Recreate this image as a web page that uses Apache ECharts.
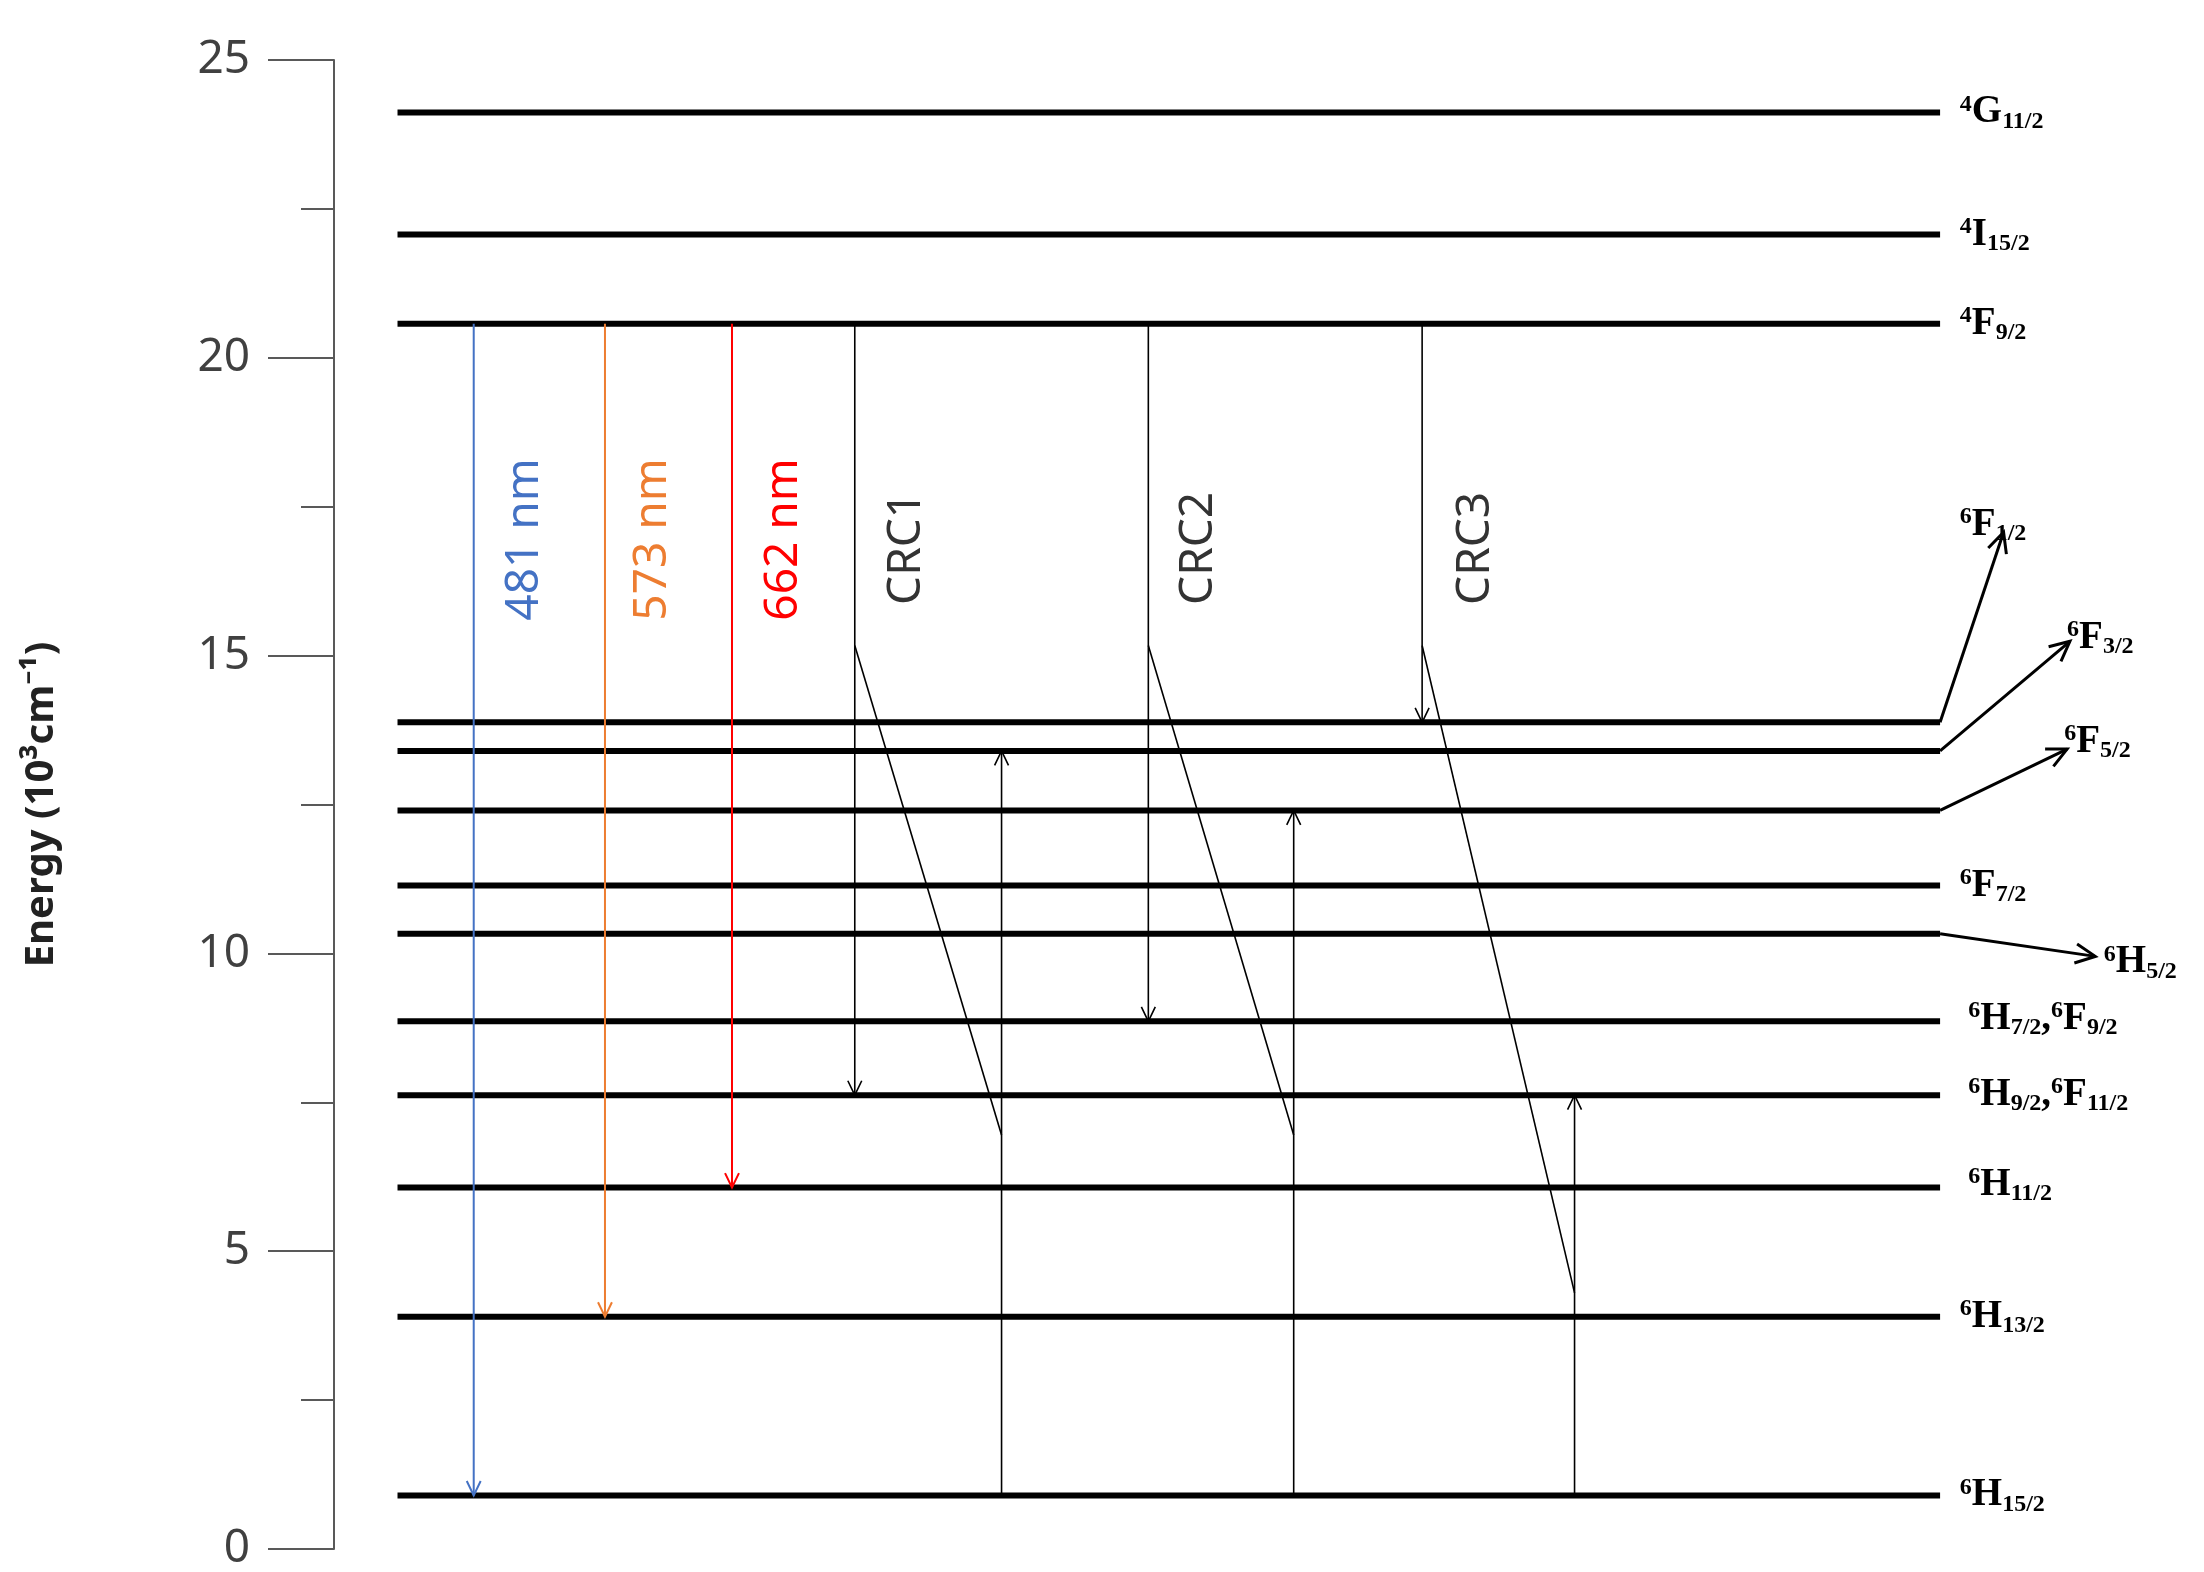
<!DOCTYPE html>
<html><head><meta charset="utf-8">
<script src="https://cdn.jsdelivr.net/npm/echarts@6/dist/echarts.min.js"></script>
<style>html,body{margin:0;padding:0;background:#fff}#c{width:2204px;height:1572px}</style>
</head><body><div id="c"></div>
<script>
// x in relative horizontal units (0 = axis line), y = energy (10^3 cm^-1)
const LEVEL_X0 = 45, LEVEL_X1 = 1138;
const levelNames = ['4G11/2','4I15/2','4F9/2','6F1/2','6F3/2','6F5/2','6F7/2','6H5/2','6H7/2,6F9/2','6H9/2,6F11/2','6H11/2','6H13/2','6H15/2'];
const levelEnergies = [24.12,22.07,20.57,13.88,13.40,12.40,11.14,10.33,8.86,7.62,6.07,3.90,0.90];
// level labels: [x, energy, rich text]
const levelLabels = [
 [1152,24.12,'{p|4}{m|G}{b|11/2}'],
 [1152,22.07,'{p|4}{m|I}{b|15/2}'],
 [1152,20.57,'{p|4}{m|F}{b|9/2}'],
 [1152,17.2,'{p|6}{m|F}{b|1/2}'],
 [1228,15.3,'{p|6}{m|F}{b|3/2}'],
 [1226,13.55,'{p|6}{m|F}{b|5/2}'],
 [1152,11.14,'{p|6}{m|F}{b|7/2}'],
 [1254,9.85,'{p|6}{m|H}{b|5/2}'],
 [1158,8.9,'{p|6}{m|H}{b|7/2}{m|,}{p|6}{m|F}{b|9/2}'],
 [1158,7.62,'{p|6}{m|H}{b|9/2}{m|,}{p|6}{m|F}{b|11/2}'],
 [1158,6.12,'{p|6}{m|H}{b|11/2}'],
 [1152,3.90,'{p|6}{m|H}{b|13/2}'],
 [1152,0.90,'{p|6}{m|H}{b|15/2}']
];
// transitions: [x1,y1,x2,y2,color,width,arrow]
const transitions = [
 [99,20.57,99,0.90,'#4472C4',2,1],
 [192,20.57,192,3.90,'#ED7D31',2,1],
 [282,20.57,282,6.07,'#FF0000',2,1],
 [369,20.57,369,7.62,'#000',1.6,1],
 [369,15.17,473,6.95,'#000',1.6,0],
 [473,0.90,473,13.40,'#000',1.6,1],
 [577,20.57,577,8.86,'#000',1.6,1],
 [577,15.17,680,6.95,'#000',1.6,0],
 [680,0.90,680,12.40,'#000',1.6,1],
 [771,20.57,771,13.88,'#000',1.6,1],
 [771,15.17,879,4.30,'#000',1.6,0],
 [879,0.90,879,7.62,'#000',1.6,1],
 [1138,13.88,1183,17.07,'#000',3,1],
 [1138,13.40,1230,15.24,'#000',3,1],
 [1138,12.40,1228,13.43,'#000',3,1],
 [1138,10.33,1248,9.95,'#000',3,1]
];
// vertical text labels: [x, energy(center), text, color]
const arrowLabels = [
 [135,16.95,'481 nm','#4472C4'],
 [226,16.95,'573 nm','#ED7D31'],
 [319,16.95,'662 nm','#FF0000'],
 [406,16.8,'CRC1','#333'],
 [613,16.8,'CRC2','#333'],
 [809,16.8,'CRC3','#333']
];
const yTicks = [0,5,10,15,20,25];

const levelData = levelEnergies.map((e,i)=>[LEVEL_X0,e,LEVEL_X1,e,'#000',6,0]);
function renderSeg(params, api){
  const p1 = api.coord([api.value(0),api.value(1)]);
  const p2 = api.coord([api.value(2),api.value(3)]);
  const d = params.dataIndexInside;
  const item = params.seriesIndex===0 ? levelData[d] : transitions[d];
  const color=item[4], w=item[5], arrow=item[6];
  const children=[{type:'line',shape:{x1:p1[0],y1:p1[1],x2:p2[0],y2:p2[1]},style:{stroke:color,lineWidth:w}}];
  if(arrow){
    const ang=Math.atan2(p2[1]-p1[1],p2[0]-p1[0]);
    const L = w>2.5?22:16, a=0.45;
    children.push({type:'polyline',shape:{points:[
      [p2[0]-L*Math.cos(ang-a),p2[1]-L*Math.sin(ang-a)],p2,
      [p2[0]-L*Math.cos(ang+a),p2[1]-L*Math.sin(ang+a)]]},
      style:{stroke:color,lineWidth:w,fill:null}});
  }
  return {type:'group',children};
}
const chart = echarts.init(document.getElementById('c'));
chart.setOption({
  animation:false,
  grid:{left:334,right:0,top:60,bottom:22},
  xAxis:{type:'value',min:0,max:1325,show:false},
  yAxis:{type:'value',min:0,max:25,interval:5,
    name:'Energy (10³cm⁻¹)',nameLocation:'middle',nameGap:272,nameRotate:90,
    nameTextStyle:{fontSize:40,fontWeight:'bold',color:'#222',fontFamily:'Noto Sans'},
    axisLine:{show:true,lineStyle:{color:'#595959',width:2}},
    axisTick:{show:true,length:66,lineStyle:{color:'#595959',width:2}},
    minorTick:{show:true,splitNumber:2,length:33,lineStyle:{color:'#595959',width:2}},
    splitLine:{show:false},
    axisLabel:{margin:84,fontSize:46,color:'#404040',fontFamily:'Noto Sans',
      formatter:v=>yTicks.includes(v)?String(v):''}},
  series:[
    {type:'custom',renderItem:renderSeg,data:levelData.map(r=>r.slice(0,4)),z:2},
    {type:'custom',renderItem:renderSeg,data:transitions.map(r=>r.slice(0,4)),z:3},
    {type:'custom',data:levelLabels.map(r=>[r[0],r[1]]),z:4,renderItem:(params,api)=>{
      const p=api.coord([api.value(0),api.value(1)]);
      return {type:'text',x:p[0],y:p[1],style:{text:levelLabels[params.dataIndexInside][2],
        align:'left',verticalAlign:'middle',fill:'#000',
        rich:{m:{fontSize:39,fontWeight:'bold',fontFamily:'Liberation Serif',fill:'#000'},
              p:{fontSize:24,fontWeight:'bold',fontFamily:'Liberation Serif',fill:'#000',padding:[0,0,16,0]},
              b:{fontSize:24,fontWeight:'bold',fontFamily:'Liberation Serif',fill:'#000',padding:[18,0,0,0]}}}};
    }},
    {type:'custom',data:arrowLabels.map(r=>[r[0],r[1]]),z:4,renderItem:(params,api)=>{
      const p=api.coord([api.value(0),api.value(1)]);
      const r=arrowLabels[params.dataIndexInside];
      return {type:'text',x:p[0],y:p[1],rotation:Math.PI/2,style:{text:r[2],fill:r[3],
        fontSize:46,fontFamily:'Noto Sans',align:'center',verticalAlign:'middle'}};
    }}
  ]
});
</script></body></html>
